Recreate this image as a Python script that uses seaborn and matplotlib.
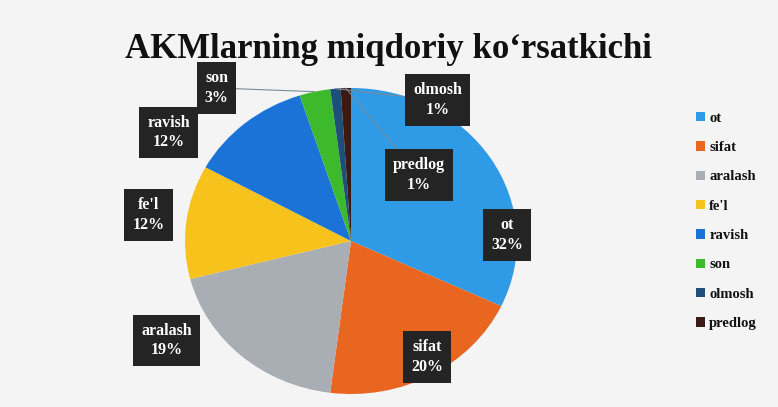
import numpy as np
import matplotlib
matplotlib.use("Agg")
import matplotlib.pyplot as plt
import seaborn as sns

categories = ["ot", "sifat", "aralash", "fe'l", "ravish", "son", "olmosh", "predlog"]
values = [32, 20, 19, 12, 12, 3, 1, 1]
colors = ["#2f9be6", "#e8661f", "#a9adb4", "#f7c21c", "#1b73d8", "#3dba2b", "#1f4f78", "#3a1a15"]
title = "AKMlarning miqdoriy ko\u2018rsatkichi"

# label box placement (data coords of pie, radius = 1) - layout only
label_pos = [(0.94, 0.04), (0.46, -0.76), (-1.11, -0.65), (-1.22, 0.17),
             (-1.10, 0.71), (-0.81, 1.0), (0.52, 0.92), (0.41, 0.43)]
leader = [False, False, False, False, False, True, True, True]

sns.set_theme(style="white")
plt.rcParams["font.family"] = ["Liberation Serif", "DejaVu Serif"]

W, H = 778, 407
fig = plt.figure(figsize=(W / 100, H / 100), dpi=100)
fig.patch.set_facecolor("#f4f4f4")

cx, cy, rx, ry = 351, 241, 166, 153
span = 1.5
ax = fig.add_axes([(cx - span * rx) / W, (H - cy - span * ry) / H,
                   2 * span * rx / W, 2 * span * ry / H])
ax.set_facecolor("none")
wedges, _ = ax.pie(values, colors=colors, startangle=90, counterclock=False,
                   wedgeprops=dict(linewidth=0))
ax.set_aspect("auto")
ax.set_xlim(-span, span)
ax.set_ylim(-span, span)
ax.axis("off")

total = sum(values)
cum = 0
for i, (cat, v) in enumerate(zip(categories, values)):
    mid = 90 - 360 * (cum + v / 2) / total
    cum += v
    pct = f"{cat}\n{round(100 * v / total)}%"
    tx, ty = label_pos[i]
    box = dict(boxstyle="square,pad=0.5", fc="#242424", ec="none")
    kw = dict(ha="center", va="center", color="white", fontsize=11.5,
              fontweight="bold", bbox=box, linespacing=1.3)
    if leader[i]:
        ex, ey = np.cos(np.radians(mid)), np.sin(np.radians(mid))
        ax.annotate(pct, xy=(ex, ey), xytext=(tx, ty),
                    arrowprops=dict(arrowstyle="-", color="#7a8a99", lw=0.8,
                                    shrinkA=0, shrinkB=0), **kw)
    else:
        ax.text(tx, ty, pct, **kw)

fig.text(388 / W, 1 - 49 / H, title, ha="center", va="center",
         fontsize=25, fontweight="bold", color="#111111")

handles = [plt.Rectangle((0, 0), 1, 1, fc=c, ec="none") for c in colors]
leg = fig.legend(handles, categories, loc="center left",
                 bbox_to_anchor=(683 / W, 1 - 221 / H), frameon=False,
                 prop=dict(size=10.5, weight="bold"), handlelength=0.6,
                 handleheight=0.6, handletextpad=0.3, labelspacing=1.12)
for t in leg.get_texts():
    t.set_color("#111111")

fig.savefig("out.png", dpi=100, facecolor=fig.get_facecolor())
